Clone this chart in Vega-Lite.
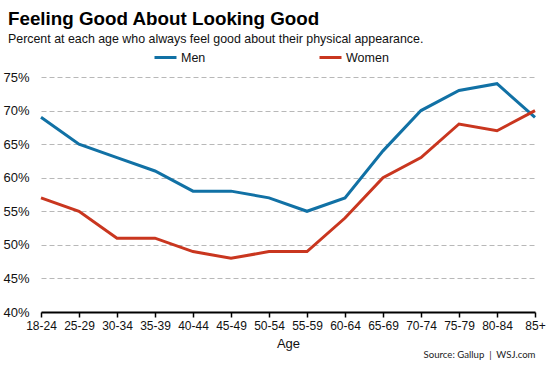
{
  "$schema": "https://vega.github.io/schema/vega-lite/v6.json",
  "width": 494,
  "height": 235,
  "autosize": {"type": "none"},
  "padding": {"left": 41, "top": 77, "right": 18, "bottom": 57},
  "background": "white",
  "title": {
    "text": "Feeling Good About Looking Good",
    "subtitle": "Percent at each age who always feel good about their physical appearance.",
    "anchor": "start",
    "frame": "group",
    "dx": -33,
    "offset": 0,
    "font": "Liberation Sans",
    "fontSize": 18.8,
    "fontWeight": "bold",
    "color": "#000000",
    "subtitleFont": "Liberation Sans",
    "subtitleFontSize": 12.4,
    "subtitleColor": "#111111",
    "subtitlePadding": 4
  },
  "config": {
    "view": {"stroke": null},
    "font": "Liberation Sans"
  },
  "data": {
    "values": [
      {"age": "18-24", "sex": "Men", "pct": 69},
      {"age": "25-29", "sex": "Men", "pct": 65},
      {"age": "30-34", "sex": "Men", "pct": 63},
      {"age": "35-39", "sex": "Men", "pct": 61},
      {"age": "40-44", "sex": "Men", "pct": 58},
      {"age": "45-49", "sex": "Men", "pct": 58},
      {"age": "50-54", "sex": "Men", "pct": 57},
      {"age": "55-59", "sex": "Men", "pct": 55},
      {"age": "60-64", "sex": "Men", "pct": 57},
      {"age": "65-69", "sex": "Men", "pct": 64},
      {"age": "70-74", "sex": "Men", "pct": 70},
      {"age": "75-79", "sex": "Men", "pct": 73},
      {"age": "80-84", "sex": "Men", "pct": 74},
      {"age": "85+", "sex": "Men", "pct": 69},
      {"age": "18-24", "sex": "Women", "pct": 57},
      {"age": "25-29", "sex": "Women", "pct": 55},
      {"age": "30-34", "sex": "Women", "pct": 51},
      {"age": "35-39", "sex": "Women", "pct": 51},
      {"age": "40-44", "sex": "Women", "pct": 49},
      {"age": "45-49", "sex": "Women", "pct": 48},
      {"age": "50-54", "sex": "Women", "pct": 49},
      {"age": "55-59", "sex": "Women", "pct": 49},
      {"age": "60-64", "sex": "Women", "pct": 54},
      {"age": "65-69", "sex": "Women", "pct": 60},
      {"age": "70-74", "sex": "Women", "pct": 63},
      {"age": "75-79", "sex": "Women", "pct": 68},
      {"age": "80-84", "sex": "Women", "pct": 67},
      {"age": "85+", "sex": "Women", "pct": 70}
    ]
  },
  "layer": [
    {
      "mark": {"type": "line", "strokeWidth": 3},
      "encoding": {
        "x": {
          "field": "age",
          "type": "ordinal",
          "sort": null,
          "scale": {"type": "point", "padding": 0},
          "axis": {
            "title": "Age",
            "titleFont": "Liberation Sans",
            "titleFontSize": 13,
            "titleFontWeight": "normal",
            "titleColor": "#111111",
            "titlePadding": 6,
            "labelAngle": 0,
            "labelFont": "Liberation Sans",
            "labelFontSize": 12,
            "labelColor": "#111111",
            "labelPadding": 3,
            "domainColor": "#000000",
            "domainWidth": 2,
            "tickColor": "#000000",
            "tickWidth": 1.5,
            "tickSize": 5,
            "grid": false
          }
        },
        "y": {
          "field": "pct",
          "type": "quantitative",
          "scale": {"domain": [40, 75], "nice": false, "zero": false},
          "axis": {
            "title": null,
            "values": [40, 45, 50, 55, 60, 65, 70, 75],
            "labelExpr": "datum.value + '%'",
            "labelFont": "Liberation Sans",
            "labelFontSize": 13,
            "labelColor": "#111111",
            "labelPadding": 12,
            "ticks": false,
            "domain": false,
            "grid": true,
            "gridColor": "#b8b8b8",
            "gridDash": [5, 3],
            "gridWidth": 1
          }
        },
        "color": {
          "field": "sex",
          "type": "nominal",
          "scale": {"domain": ["Men", "Women"], "range": ["#1171a5", "#c9361f"]},
          "legend": {
            "title": null,
            "orient": "none",
            "direction": "horizontal",
            "legendX": 112,
            "legendY": -32,
            "symbolType": "stroke",
            "symbolSize": 484,
            "symbolStrokeWidth": 3,
            "labelFont": "Liberation Sans",
            "labelFontSize": 12.5,
            "labelColor": "#111111",
            "labelOffset": 3,
            "columnPadding": 107
          }
        }
      }
    },
    {
      "mark": {"type": "rule", "opacity": 0},
      "encoding": {
        "x": {
          "field": "age",
          "type": "ordinal",
          "sort": null,
          "axis": {
            "orient": "bottom",
            "labels": false,
            "ticks": false,
            "domain": false,
            "grid": false,
            "title": "Source: Gallup\u00a0\u00a0|\u00a0\u00a0WSJ.com",
            "titleAnchor": "end",
            "titleFont": "Lato",
            "titleFontSize": 9.6,
            "titleFontWeight": "normal",
            "titleColor": "#222222",
            "titleY": 37
          }
        }
      }
    }
  ],
  "resolve": {"axis": {"x": "independent"}}
}
